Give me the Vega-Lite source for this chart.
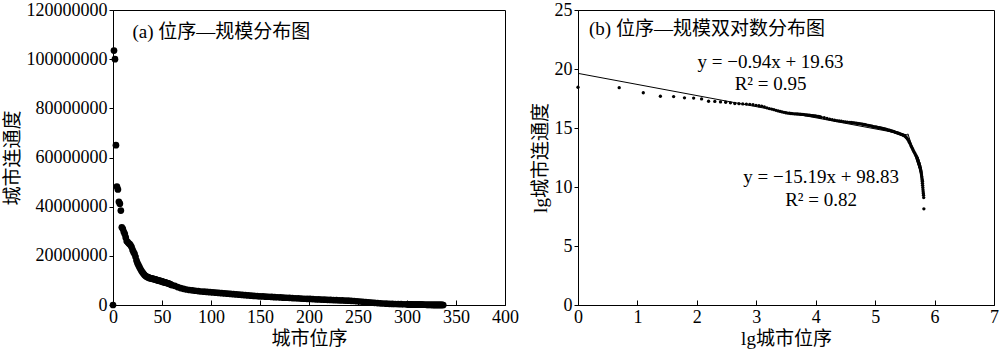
{
"$schema": "https://vega.github.io/schema/vega-lite/v6.json",
"background": "white",
"padding": {"left": 2, "top": 0, "right": 2, "bottom": 0},
"spacing": 73,
"bounds": "flush",
"config": {
 "font": "Liberation Serif, Noto Sans CJK SC",
 "view": {"stroke": "black", "strokeWidth": 1},
 "axis": {"grid": false, "domainColor": "black", "tickColor": "black", "labelColor": "black", "titleColor": "black", "labelFontSize": 18, "titleFontSize": 19, "titleFontWeight": "normal", "tickSize": 4, "labelPadding": 2, "titlePadding": 4, "domainWidth": 1, "tickWidth": 1, "labelFlush": false, "labelOverlap": false, "labelFont": "Liberation Serif, Noto Sans CJK SC", "titleFont": "Liberation Serif, Noto Sans CJK SC"},
 "axisX": {"tickSize": -5, "labelPadding": 8, "titlePadding": 3}
},
"datasets": {
 "pts": [
{"r":0,"v":0},
{"r":1,"v":103500000,"lr":0,"lv":18.455},
{"r":2,"v":100000000,"lr":0.6931,"lv":18.421},
{"r":3,"v":65000000,"lr":1.0986,"lv":17.990},
{"r":4,"v":48200000,"lr":1.3863,"lv":17.691},
{"r":5,"v":47000000,"lr":1.6094,"lv":17.666},
{"r":6,"v":42000000,"lr":1.7918,"lv":17.553},
{"r":7,"v":41200000,"lr":1.9459,"lv":17.534},
{"r":8,"v":38400000,"lr":2.0794,"lv":17.464},
{"r":9,"v":31600000,"lr":2.1972,"lv":17.269},
{"r":10,"v":31000000,"lr":2.3026,"lv":17.250},
{"r":11,"v":29800000,"lr":2.3979,"lv":17.210},
{"r":12,"v":28900000,"lr":2.4849,"lv":17.180},
{"r":13,"v":27500000,"lr":2.5649,"lv":17.130},
{"r":14,"v":26000000,"lr":2.6391,"lv":17.074},
{"r":15,"v":25600000,"lr":2.7081,"lv":17.058},
{"r":16,"v":25100000,"lr":2.7726,"lv":17.038},
{"r":17,"v":24800000,"lr":2.8332,"lv":17.027},
{"r":18,"v":24300000,"lr":2.8904,"lv":17.006},
{"r":19,"v":23600000,"lr":2.9444,"lv":16.976},
{"r":20,"v":22400000,"lr":2.9957,"lv":16.925},
{"r":21,"v":21500000,"lr":3.0445,"lv":16.884},
{"r":22,"v":20800000,"lr":3.0910,"lv":16.850},
{"r":23,"v":19600000,"lr":3.1355,"lv":16.791},
{"r":24,"v":18100000,"lr":3.1781,"lv":16.711},
{"r":25,"v":17000000,"lr":3.2189,"lv":16.649},
{"r":26,"v":16200000,"lr":3.2581,"lv":16.601},
{"r":27,"v":15400000,"lr":3.2958,"lv":16.550},
{"r":28,"v":14600000,"lr":3.3322,"lv":16.497},
{"r":29,"v":13900000,"lr":3.3673,"lv":16.447},
{"r":30,"v":13300000,"lr":3.4012,"lv":16.403},
{"r":31,"v":12800000,"lr":3.4340,"lv":16.365},
{"r":32,"v":12300000,"lr":3.4657,"lv":16.325},
{"r":33,"v":11900000,"lr":3.4965,"lv":16.292},
{"r":34,"v":11600000,"lr":3.5264,"lv":16.267},
{"r":35,"v":11400000,"lr":3.5553,"lv":16.249},
{"r":36,"v":11200000,"lr":3.5835,"lv":16.231},
{"r":37,"v":11000000,"lr":3.6109,"lv":16.213},
{"r":38,"v":10900000,"lr":3.6376,"lv":16.204},
{"r":39,"v":10800000,"lr":3.6636,"lv":16.195},
{"r":40,"v":10700000,"lr":3.6889,"lv":16.186},
{"r":41,"v":10600000,"lr":3.7136,"lv":16.176},
{"r":42,"v":10500000,"lr":3.7377,"lv":16.167},
{"r":43,"v":10400000,"lr":3.7612,"lv":16.157},
{"r":44,"v":10300000,"lr":3.7842,"lv":16.148},
{"r":45,"v":10100000,"lr":3.8067,"lv":16.128},
{"r":46,"v":10000000,"lr":3.8286,"lv":16.118},
{"r":47,"v":9900000,"lr":3.8501,"lv":16.108},
{"r":48,"v":9800000,"lr":3.8712,"lv":16.098},
{"r":49,"v":9700000,"lr":3.8918,"lv":16.088},
{"r":50,"v":9600000,"lr":3.9120,"lv":16.077},
{"r":51,"v":9400000,"lr":3.9318,"lv":16.056},
{"r":52,"v":9300000,"lr":3.9512,"lv":16.046},
{"r":53,"v":9200000,"lr":3.9703,"lv":16.035},
{"r":54,"v":9100000,"lr":3.9890,"lv":16.024},
{"r":55,"v":8900000,"lr":4.0073,"lv":16.002},
{"r":56,"v":8800000,"lr":4.0254,"lv":15.990},
{"r":57,"v":8700000,"lr":4.0431,"lv":15.979},
{"r":58,"v":8500000,"lr":4.0604,"lv":15.956},
{"r":59,"v":8300000,"lr":4.0775,"lv":15.932},
{"r":60,"v":8100000,"lr":4.0943,"lv":15.907},
{"r":63,"v":7800000,"lr":4.1431,"lv":15.870},
{"r":66,"v":7300000,"lr":4.1897,"lv":15.803},
{"r":69,"v":6900000,"lr":4.2341,"lv":15.747},
{"r":72,"v":6600000,"lr":4.2767,"lv":15.703},
{"r":75,"v":6300000,"lr":4.3175,"lv":15.656},
{"r":78,"v":6100000,"lr":4.3567,"lv":15.624},
{"r":81,"v":5950000,"lr":4.3944,"lv":15.599},
{"r":84,"v":5800000,"lr":4.4308,"lv":15.573},
{"r":87,"v":5650000,"lr":4.4659,"lv":15.547},
{"r":90,"v":5500000,"lr":4.4998,"lv":15.520},
{"r":93,"v":5400000,"lr":4.5326,"lv":15.502},
{"r":96,"v":5300000,"lr":4.5643,"lv":15.483},
{"r":99,"v":5200000,"lr":4.5951,"lv":15.464},
{"r":102,"v":5100000,"lr":4.6250,"lv":15.445},
{"r":105,"v":5000000,"lr":4.6540,"lv":15.425},
{"r":108,"v":4900000,"lr":4.6821,"lv":15.405},
{"r":111,"v":4800000,"lr":4.7095,"lv":15.384},
{"r":114,"v":4700000,"lr":4.7362,"lv":15.363},
{"r":117,"v":4600000,"lr":4.7622,"lv":15.342},
{"r":120,"v":4500000,"lr":4.7875,"lv":15.320},
{"r":123,"v":4400000,"lr":4.8122,"lv":15.297},
{"r":126,"v":4300000,"lr":4.8363,"lv":15.274},
{"r":129,"v":4200000,"lr":4.8598,"lv":15.251},
{"r":132,"v":4100000,"lr":4.8828,"lv":15.227},
{"r":135,"v":4000000,"lr":4.9053,"lv":15.202},
{"r":138,"v":3900000,"lr":4.9273,"lv":15.177},
{"r":141,"v":3800000,"lr":4.9488,"lv":15.151},
{"r":144,"v":3700000,"lr":4.9698,"lv":15.124},
{"r":147,"v":3600000,"lr":4.9904,"lv":15.096},
{"r":150,"v":3550000,"lr":5.0106,"lv":15.082},
{"r":153,"v":3500000,"lr":5.0304,"lv":15.068},
{"r":156,"v":3400000,"lr":5.0499,"lv":15.039},
{"r":159,"v":3350000,"lr":5.0689,"lv":15.025},
{"r":162,"v":3300000,"lr":5.0876,"lv":15.009},
{"r":165,"v":3200000,"lr":5.1059,"lv":14.979},
{"r":168,"v":3150000,"lr":5.1240,"lv":14.963},
{"r":171,"v":3100000,"lr":5.1417,"lv":14.947},
{"r":174,"v":3000000,"lr":5.1591,"lv":14.914},
{"r":177,"v":2950000,"lr":5.1761,"lv":14.897},
{"r":180,"v":2900000,"lr":5.1930,"lv":14.880},
{"r":183,"v":2800000,"lr":5.2095,"lv":14.845},
{"r":186,"v":2750000,"lr":5.2257,"lv":14.827},
{"r":189,"v":2700000,"lr":5.2417,"lv":14.809},
{"r":192,"v":2600000,"lr":5.2575,"lv":14.771},
{"r":195,"v":2550000,"lr":5.2730,"lv":14.752},
{"r":198,"v":2500000,"lr":5.2883,"lv":14.732},
{"r":201,"v":2450000,"lr":5.3033,"lv":14.712},
{"r":204,"v":2400000,"lr":5.3181,"lv":14.691},
{"r":207,"v":2300000,"lr":5.3327,"lv":14.648},
{"r":210,"v":2250000,"lr":5.3471,"lv":14.626},
{"r":213,"v":2200000,"lr":5.3613,"lv":14.604},
{"r":216,"v":2150000,"lr":5.3753,"lv":14.581},
{"r":219,"v":2100000,"lr":5.3891,"lv":14.557},
{"r":222,"v":2050000,"lr":5.4027,"lv":14.533},
{"r":225,"v":2000000,"lr":5.4161,"lv":14.509},
{"r":228,"v":1950000,"lr":5.4293,"lv":14.483},
{"r":231,"v":1900000,"lr":5.4424,"lv":14.457},
{"r":234,"v":1850000,"lr":5.4553,"lv":14.431},
{"r":237,"v":1800000,"lr":5.4681,"lv":14.403},
{"r":240,"v":1750000,"lr":5.4806,"lv":14.375},
{"r":243,"v":1700000,"lr":5.4931,"lv":14.346},
{"r":246,"v":1620000,"lr":5.5053,"lv":14.298},
{"r":249,"v":1520000,"lr":5.5175,"lv":14.234},
{"r":252,"v":1420000,"lr":5.5294,"lv":14.166},
{"r":255,"v":1320000,"lr":5.5413,"lv":14.093},
{"r":258,"v":1200000,"lr":5.5530,"lv":13.998},
{"r":261,"v":1100000,"lr":5.5645,"lv":13.911},
{"r":264,"v":980000,"lr":5.5759,"lv":13.795},
{"r":267,"v":870000,"lr":5.5872,"lv":13.676},
{"r":270,"v":770000,"lr":5.5984,"lv":13.554},
{"r":273,"v":680000,"lr":5.6095,"lv":13.430},
{"r":276,"v":610000,"lr":5.6204,"lv":13.321},
{"r":279,"v":550000,"lr":5.6312,"lv":13.218},
{"r":282,"v":490000,"lr":5.6419,"lv":13.102},
{"r":285,"v":440000,"lr":5.6525,"lv":12.995},
{"r":288,"v":400000,"lr":5.6630,"lv":12.899},
{"r":291,"v":360000,"lr":5.6733,"lv":12.794},
{"r":294,"v":330000,"lr":5.6836,"lv":12.707},
{"r":297,"v":300000,"lr":5.6937,"lv":12.612},
{"r":300,"v":268000,"lr":5.7038,"lv":12.50},
{"r":301,"v":255000,"lr":5.7071,"lv":12.45},
{"r":302,"v":243000,"lr":5.7104,"lv":12.40},
{"r":303,"v":231000,"lr":5.7137,"lv":12.35},
{"r":304,"v":220000,"lr":5.7170,"lv":12.30},
{"r":305,"v":209000,"lr":5.7203,"lv":12.25},
{"r":306,"v":199000,"lr":5.7236,"lv":12.20},
{"r":307,"v":189000,"lr":5.7268,"lv":12.15},
{"r":308,"v":180000,"lr":5.7301,"lv":12.10},
{"r":309,"v":171000,"lr":5.7333,"lv":12.05},
{"r":310,"v":163000,"lr":5.7366,"lv":12.00},
{"r":311,"v":155000,"lr":5.7398,"lv":11.95},
{"r":312,"v":147000,"lr":5.7430,"lv":11.90},
{"r":313,"v":139000,"lr":5.7462,"lv":11.84},
{"r":314,"v":131000,"lr":5.7494,"lv":11.78},
{"r":315,"v":123000,"lr":5.7526,"lv":11.72},
{"r":316,"v":116000,"lr":5.7557,"lv":11.66},
{"r":317,"v":109000,"lr":5.7589,"lv":11.60},
{"r":318,"v":102000,"lr":5.7621,"lv":11.53},
{"r":319,"v":95000,"lr":5.7652,"lv":11.46},
{"r":320,"v":88500,"lr":5.7683,"lv":11.39},
{"r":321,"v":81700,"lr":5.7714,"lv":11.31},
{"r":322,"v":74700,"lr":5.7746,"lv":11.22},
{"r":323,"v":67600,"lr":5.7777,"lv":11.12},
{"r":324,"v":60500,"lr":5.7807,"lv":11.01},
{"r":325,"v":53700,"lr":5.7838,"lv":10.89},
{"r":326,"v":47100,"lr":5.7869,"lv":10.76},
{"r":327,"v":41000,"lr":5.7900,"lv":10.62},
{"r":328,"v":35300,"lr":5.7930,"lv":10.47},
{"r":329,"v":30000,"lr":5.7961,"lv":10.31},
{"r":330,"v":25300,"lr":5.7991,"lv":10.14},
{"r":331,"v":21100,"lr":5.8021,"lv":9.96},
{"r":332,"v":17500,"lr":5.8051,"lv":9.77},
{"r":333,"v":14800,"lr":5.8081,"lv":9.60},
{"r":334,"v":12700,"lr":5.8111,"lv":9.45},
{"r":335,"v":10900,"lr":5.8141,"lv":9.30},
{"r":336,"v":8960,"lr":5.8171,"lv":9.10},
{"r":337,"v":3460,"lr":5.8201,"lv":8.15}
 ],
 "fit": [
{"g":"a","lr":0,"lv":19.63},
{"g":"a","lr":5.56,"lv":14.40},
{"g":"b","lr":5.55,"lv":14.52},
{"g":"b","lr":5.82,"lv":10.42}
 ],
 "eq": [
{"lr":3.24,"lv":20.56,"t":"y = −0.94x + 19.63"},
{"lr":3.24,"lv":18.73,"t":"R² = 0.95"},
{"lr":4.09,"lv":10.87,"t":"y = −15.19x + 98.83"},
{"lr":4.09,"lv":8.92,"t":"R² = 0.82"}
 ],
 "tb": [
{"lr":0.185,"lv":23.39,"t":"(b) 位序—规模双对数分布图"}
 ],
 "ta": [
{"r":19.8,"v":111200000,"t":"(a) 位序—规模分布图"}
 ]
},
"hconcat": [
 {
  "width": 392,
  "height": 295,
  "encoding": {
   "x": {"field": "r", "type": "quantitative", "scale": {"domain": [0, 400], "nice": false, "zero": false}, "axis": {"title": "城市位序", "values": [0, 50, 100, 150, 200, 250, 300, 350, 400]}},
   "y": {"field": "v", "type": "quantitative", "scale": {"domain": [0, 120000000], "nice": false, "zero": false}, "axis": {"title": "城市连通度", "values": [0, 20000000, 40000000, 60000000, 80000000, 100000000, 120000000], "format": "d"}}
  },
  "layer": [
   {"data": {"name": "pts"}, "mark": {"type": "circle", "color": "black", "size": 45, "opacity": 1}},
   {"data": {"name": "ta"}, "mark": {"type": "text", "align": "left", "baseline": "middle", "fontSize": 19, "color": "black"}, "encoding": {"text": {"field": "t"}}}
  ]
 },
 {
  "width": 416,
  "height": 295,
  "encoding": {
   "x": {"field": "lr", "type": "quantitative", "scale": {"domain": [0, 7], "nice": false, "zero": false}, "axis": {"title": "lg城市位序", "values": [0, 1, 2, 3, 4, 5, 6, 7]}},
   "y": {"field": "lv", "type": "quantitative", "scale": {"domain": [0, 25], "nice": false, "zero": false}, "axis": {"title": "lg城市连通度", "values": [0, 5, 10, 15, 20, 25]}}
  },
  "layer": [
   {"data": {"name": "fit"}, "mark": {"type": "line", "color": "black", "strokeWidth": 1}, "encoding": {"detail": {"field": "g"}}},
   {"data": {"name": "pts"}, "mark": {"type": "circle", "color": "black", "size": 11, "opacity": 1}},
   {"data": {"name": "tb"}, "mark": {"type": "text", "align": "left", "baseline": "middle", "fontSize": 19, "color": "black"}, "encoding": {"text": {"field": "t"}}},
   {"data": {"name": "eq"}, "mark": {"type": "text", "align": "center", "baseline": "middle", "fontSize": 19, "color": "black"}, "encoding": {"text": {"field": "t"}}}
  ]
 }
]
}
